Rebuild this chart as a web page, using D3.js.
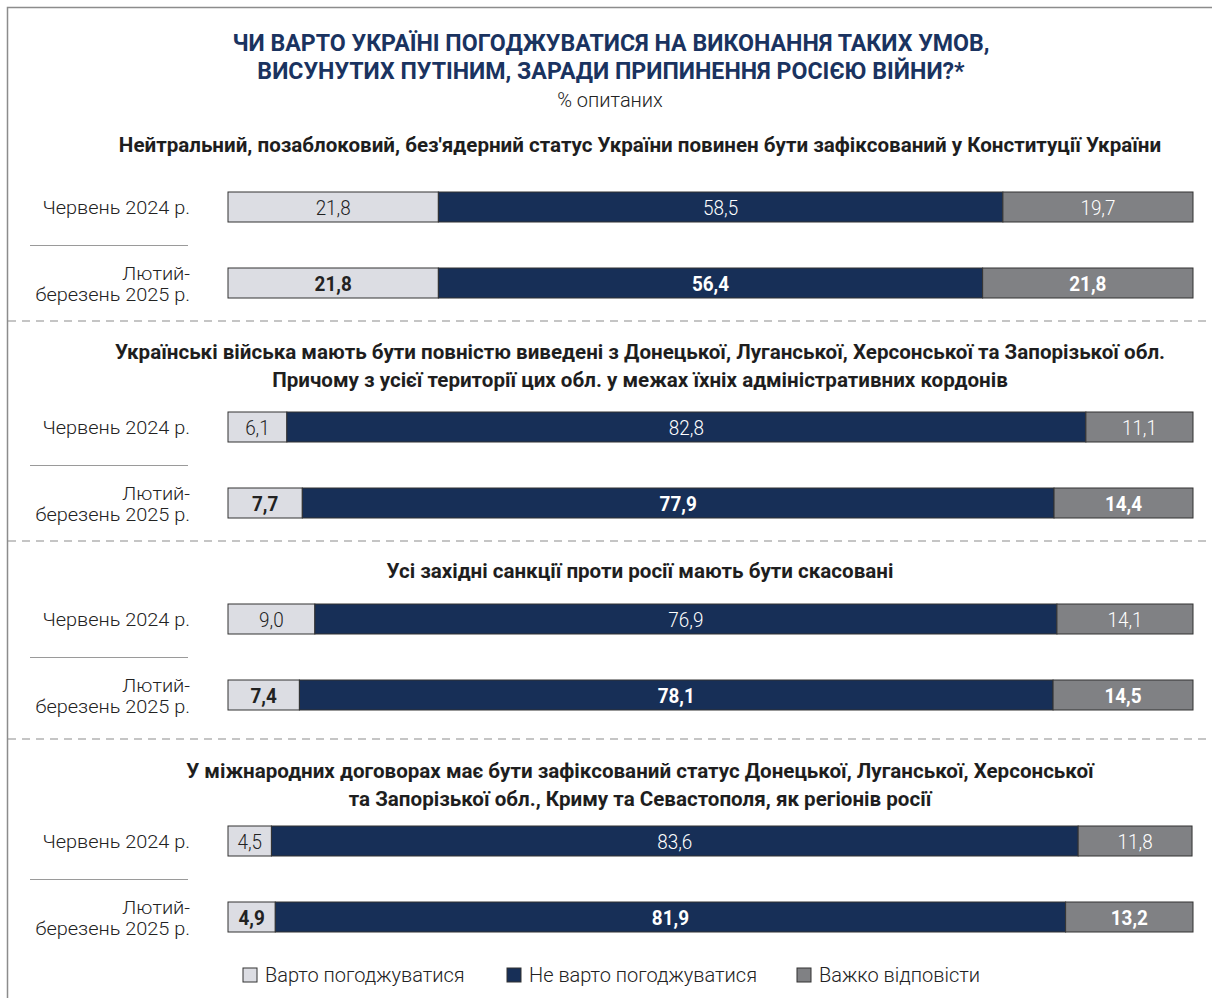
<!DOCTYPE html>
<html>
<head>
<meta charset="utf-8">
<script src="https://cdn.jsdelivr.net/npm/d3@7"></script>
<style>
  body { margin: 0; background: #fff; }
  svg { display: block; font-family: Roboto, "Noto Sans", sans-serif; }
</style>
</head>
<body>
<div id="chart"></div>
<script>
// Data
const title = ['ЧИ ВАРТО УКРАЇНІ ПОГОДЖУВАТИСЯ НА ВИКОНАННЯ ТАКИХ УМОВ,', 'ВИСУНУТИХ ПУТІНИМ, ЗАРАДИ ПРИПИНЕННЯ РОСІЄЮ ВІЙНИ?*']
const subtitle = '% опитаних'
const periods = ['Червень 2024 р.', 'Лютий-\nберезень 2025 р.']
const questions = [
  ['Нейтральний, позаблоковий, без\'ядерний статус України повинен бути зафіксований у Конституції України'],
  ['Українські війська мають бути повністю виведені з Донецької, Луганської, Херсонської та Запорізької обл.', 'Причому з усієї території цих обл. у межах їхніх адміністративних кордонів'],
  ['Усі західні санкції проти росії мають бути скасовані'],
  ['У міжнародних договорах має бути зафіксований статус Донецької, Луганської, Херсонської', 'та Запорізької обл., Криму та Севастополя, як регіонів росії']
]
const seriesNames = ['Варто погоджуватися', 'Не варто погоджуватися', 'Важко відповісти']
const agreeJun2024 = [21.8, 6.1, 9.0, 4.5]
const agreeFeb2025 = [21.8, 7.7, 7.4, 4.9]
const disagreeJun2024 = [58.5, 82.8, 76.9, 83.6]
const disagreeFeb2025 = [56.4, 77.9, 78.1, 81.9]
const hardJun2024 = [19.7, 11.1, 14.1, 11.8]
const hardFeb2025 = [21.8, 14.4, 14.5, 13.2]

const colors = ['#dcdde3', '#172f57', '#808184']
const textColors = ['#222', '#fff', '#fff']

// Dimensions
const width = 1212
const height = 998
const barLeft = 228
const barRight = 1193
const barH = 30
const rowStep = 76

// Section layout: title baseline, first bar centre, dashed line below
const sectionLayout = [
  { titleY: 152, barY: 207, sepY: 321 },
  { titleY: 359, barY: 427, sepY: 541 },
  { titleY: 578, barY: 619, sepY: 739 },
  { titleY: 778, barY: 841, sepY: null }
]

const fmt = v => d3.format('.1f')(v).replace('.', ',')

// Squeeze text horizontally around its x to mimic the condensed face
const squeeze = (sel, sx) => sel.attr('transform', function () {
  const cx = +d3.select(this).attr('x')
  return `translate(${cx},0) scale(${sx},1) translate(${-cx},0)`
})

const svg = d3.select('#chart')
  .append('svg')
  .attr('width', width)
  .attr('height', height)

// Frame (top and left edges)
svg.append('path')
  .attr('d', `M7.5,${height}V7.5H${width}`)
  .attr('fill', 'none')
  .attr('stroke', '#8c8c8c')
  .attr('stroke-width', 1.5)

// Title
svg.append('g')
  .selectAll('text')
  .data(title)
  .join('text')
  .attr('x', 611)
  .attr('y', (d, i) => 51 + i * 28)
  .attr('text-anchor', 'middle')
  .attr('font-size', 24)
  .attr('font-weight', 700)
  .attr('fill', '#1a3360')
  .text(d => d)
  .call(squeeze, 0.965)

svg.append('text')
  .attr('x', 610)
  .attr('y', 107)
  .attr('text-anchor', 'middle')
  .attr('font-size', 20)
  .attr('font-weight', 300)
  .attr('fill', '#222')
  .text(subtitle)

const x = d3.scaleLinear().domain([0, 100]).range([barLeft, barRight])
const yBand = d3.scaleBand().domain(periods).range([0, rowStep * 2]).paddingInner(0)

const rows = questions.map((q, i) => ({
  q,
  layout: sectionLayout[i],
  periods: [
    [agreeJun2024[i], disagreeJun2024[i], hardJun2024[i]],
    [agreeFeb2025[i], disagreeFeb2025[i], hardFeb2025[i]]
  ]
}))

const section = svg.selectAll('g.section')
  .data(rows)
  .join('g')
  .attr('class', 'section')

section.each(function (d) {
  const g = d3.select(this)

  // Question title
  g.selectAll('text.qtitle')
    .data(d.q)
    .join('text')
    .attr('class', 'qtitle')
    .attr('x', 640)
    .attr('y', (t, i) => d.layout.titleY + i * 28)
    .attr('text-anchor', 'middle')
    .attr('font-size', 21)
    .attr('font-weight', 700)
    .attr('fill', '#1e1e1e')
    .text(t => t)
    .call(squeeze, 0.98)

  if (d.layout.sepY != null) {
    g.append('line')
      .attr('x1', 8).attr('x2', width)
      .attr('y1', d.layout.sepY).attr('y2', d.layout.sepY)
      .attr('stroke', '#8c8c8c')
      .attr('stroke-width', 1.2)
      .attr('stroke-dasharray', '8,6')
  }

  // Thin separator between the two periods
  const midY = d.layout.barY + rowStep / 2 + 0.5
  g.append('line')
    .attr('x1', 30).attr('x2', 188)
    .attr('y1', midY).attr('y2', midY)
    .attr('stroke', '#9a9a9a')
    .attr('stroke-width', 1)

  d.periods.forEach((vals, pi) => {
    const cy = d.layout.barY + yBand(periods[pi])
    const bold = pi === 1
    let acc = 0
    const segs = vals.map((v, si) => {
      const s = { v, si, x0: acc, x1: acc + v }
      acc += v
      return s
    })
    const row = g.append('g')

    row.selectAll('rect')
      .data(segs)
      .join('rect')
      .attr('x', s => x(s.x0))
      .attr('y', cy - barH / 2)
      .attr('width', s => x(s.x1) - x(s.x0))
      .attr('height', barH)
      .attr('fill', s => colors[s.si])
      .attr('stroke', '#333')
      .attr('stroke-width', 1)

    row.selectAll('text.val')
      .data(segs)
      .join('text')
      .attr('class', 'val')
      .attr('x', s => (x(s.x0) + x(s.x1)) / 2)
      .attr('y', cy + 8)
      .attr('text-anchor', 'middle')
      .attr('font-size', 21)
      .attr('font-weight', bold ? 700 : 300)
      .attr('fill', s => textColors[s.si])
      .text(s => fmt(s.v))
      .call(squeeze, 0.9)

    // Period label
    const lines = periods[pi].split('\n')
    row.selectAll('text.lab')
      .data(lines)
      .join('text')
      .attr('class', 'lab')
      .attr('x', 190)
      .attr('y', (t, i) => cy + 7 - (lines.length - 1) * 10 + i * 21)
      .attr('text-anchor', 'end')
      .attr('font-size', 17.8)
      .attr('font-weight', 300)
      .attr('fill', '#222')
      .text(t => t)
      .call(squeeze, 1.12)
  })
})

// Legend
const legendX = [243, 507, 797]
const legend = svg.append('g')
  .selectAll('g')
  .data(seriesNames)
  .join('g')
  .attr('transform', (d, i) => `translate(${legendX[i]}, 975)`)

legend.append('rect')
  .attr('x', 0).attr('y', -7)
  .attr('width', 14).attr('height', 14)
  .attr('fill', (d, i) => colors[i])
  .attr('stroke', '#333')
  .attr('stroke-width', 1)

legend.append('text')
  .attr('x', 22)
  .attr('y', 7)
  .attr('font-size', 20)
  .attr('font-weight', 300)
  .attr('fill', '#222')
  .text(d => d)
</script>
</body>
</html>
